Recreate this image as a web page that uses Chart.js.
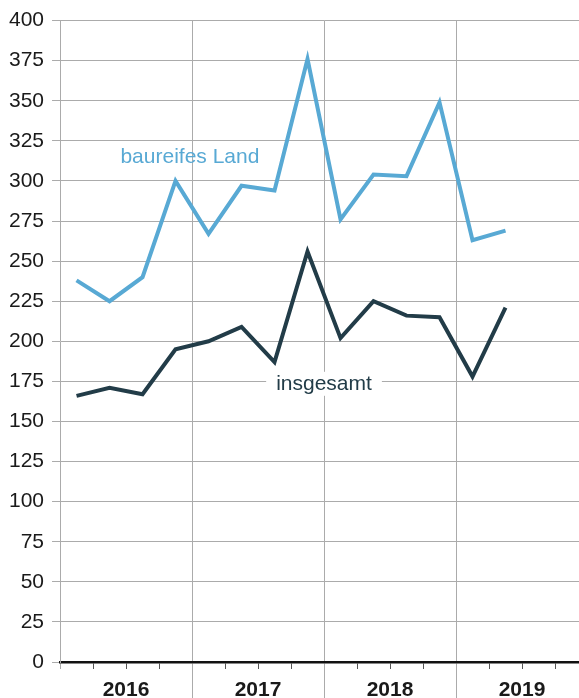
<!DOCTYPE html>
<html>
<head>
<meta charset="utf-8">
<script src="https://cdn.jsdelivr.net/npm/chart.js@4"></script>
<style>
  html, body { margin: 0; padding: 0; background: #fff; overflow: hidden; }
  /* das Original ist rechts angeschnitten: Canvas breiter als das Fenster */
  #wrap { width: 579px; height: 698px; overflow: hidden; }
</style>
</head>
<body>
<div id="wrap"><canvas id="myChart" width="589" height="698"></canvas></div>
<script>
// Quartale 2016 Q1 bis 2019 Q4
const quarters = ['2016 Q1', '2016 Q2', '2016 Q3', '2016 Q4',
                  '2017 Q1', '2017 Q2', '2017 Q3', '2017 Q4',
                  '2018 Q1', '2018 Q2', '2018 Q3', '2018 Q4',
                  '2019 Q1', '2019 Q2', '2019 Q3', '2019 Q4'];
const years = ['2016', '2017', '2018', '2019'];
const baureifesLand = [238, 225, 240, 300, 267, 297, 294, 376, 276, 304, 303, 349, 263, 269];
const insgesamt = [166, 171, 167, 195, 200, 209, 187, 256, 202, 225, 216, 215, 178, 221];

const BLUE = '#58a9d4';
const DARK = '#223c48';
const GRID = '#ababab';
const FONT = "'Liberation Sans', Arial, Helvetica, sans-serif";

// Beschriftung direkt an den Linien
const lineLabels = {
  id: 'lineLabels',
  beforeDatasetsDraw(chart) {
    const { ctx, scales: { x, y } } = chart;
    ctx.save();
    ctx.font = '21px ' + FONT;
    ctx.textBaseline = 'middle';

    // insgesamt, mit weissem Hintergrund
    const t = 'insgesamt';
    const cx = x.getPixelForValue(7.5);
    const cy = y.getPixelForValue(173.5);
    const w = ctx.measureText(t).width;
    ctx.fillStyle = '#fff';
    ctx.fillRect(cx - w / 2 - 10, cy - 12, w + 20, 24);
    ctx.fillStyle = DARK;
    ctx.textAlign = 'center';
    ctx.fillText(t, cx, cy);

    // baureifes Land
    ctx.fillStyle = BLUE;
    ctx.textAlign = 'left';
    ctx.fillText('baureifes Land', x.getPixelForValue(1.33), y.getPixelForValue(315));
    ctx.restore();
  },
  // Jahrestrenner bis zum unteren Rand verlaengern
  afterDraw(chart) {
    const { ctx, scales: { years } } = chart;
    ctx.save();
    ctx.strokeStyle = GRID;
    ctx.lineWidth = 1;
    for (let i = 1; i < years.ticks.length; i++) {
      const px = Math.round(years.getPixelForValue(i - 0.5)) + 0.5;
      ctx.beginPath();
      ctx.moveTo(px, years.top);
      ctx.lineTo(px, chart.height);
      ctx.stroke();
    }
    ctx.restore();
  }
};

const ctx = document.getElementById('myChart').getContext('2d');
new Chart(ctx, {
  type: 'line',
  data: {
    labels: quarters,
    datasets: [
      { label: 'baureifes Land', data: baureifesLand, borderColor: BLUE, borderWidth: 4,
        pointRadius: 0, tension: 0, borderJoinStyle: 'miter', xAxisID: 'x' },
      { label: 'insgesamt', data: insgesamt, borderColor: DARK, borderWidth: 4,
        pointRadius: 0, tension: 0, borderJoinStyle: 'miter', xAxisID: 'x' }
    ]
  },
  options: {
    responsive: false,
    animation: false,
    layout: { padding: { top: 17.4, right: 1, left: 1, bottom: 0 } },
    plugins: { legend: { display: false }, tooltip: { enabled: false } },
    scales: {
      x: {
        position: 'bottom',
        weight: 0,
        offset: true,
        ticks: { display: false },
        grid: {
          offset: true,
          drawOnChartArea: false,
          tickLength: 7,
          tickWidth: 1,
          tickColor: c => c.index === undefined ? 'transparent' : (c.index % 4 === 0 ? GRID : '#555')
        },
        border: { color: '#111', width: 2.5 }
      },
      years: {
        type: 'category',
        labels: years,
        position: 'bottom',
        weight: 1,
        offset: true,
        ticks: {
          font: { family: FONT, size: 21, weight: 'bold' },
          color: '#1a1a1a',
          padding: -4.6,
          maxRotation: 0
        },
        grid: {
          offset: true,
          tickLength: 13,
          color: c => (c.index > 0 && c.index < 4) ? GRID : 'transparent',
          tickColor: 'transparent'
        },
        border: { display: false }
      },
      y: {
        min: 0,
        max: 400,
        ticks: {
          stepSize: 25,
          font: { family: FONT, size: 21 },
          color: '#1a1a1a',
          padding: 8
        },
        grid: {
          color: c => c.tick && c.tick.value === 0 ? 'transparent' : GRID,
          tickColor: GRID,
          tickLength: 8
        },
        border: { color: GRID, width: 1 }
      }
    }
  },
  plugins: [lineLabels]
});
</script>
</body>
</html>
